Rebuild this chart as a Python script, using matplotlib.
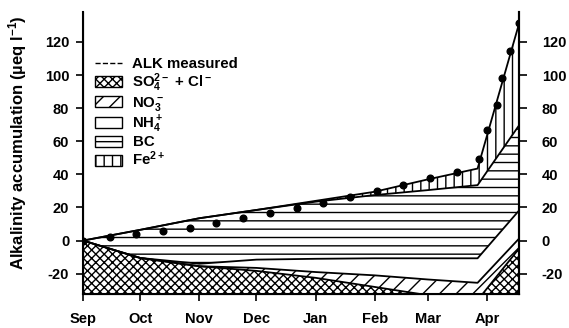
import matplotlib
matplotlib.use("Agg")
import matplotlib.pyplot as plt
import numpy as np
from matplotlib.lines import Line2D
from matplotlib.patches import Patch

# days since 1 Sep
days = [0, 30, 61, 91, 122, 153, 181, 207, 229]

# contributions to alkalinity (ueq/l), stacked in this order
so4_cl = [0, -10.5, -15.5, -18.3, -22.5, -28, -33, -36, -4.5]
no3 = [0, 0, 0, 1.8, 3.5, 7, 9.5, 10.5, 6]
nh4 = [0, 0, 1.5, 5, 8, 10.3, 12.8, 14.8, 17]
bc = [0, 17, 27.5, 30, 34.5, 38.2, 41.2, 44.2, 51.5]
fe = [0, 0, 0, 0, 0.5, 2, 6.5, 10, 62]

alk_days = [0, 14, 28, 42, 56, 70, 84, 98, 112, 126, 140, 154, 168, 182, 196,
            208, 212, 217, 220, 224, 229]
alk_measured = [0, 2, 4, 5.9, 7.5, 10.5, 13.6, 16.6, 19.6, 23, 26.3, 30.1, 33.8,
                37.8, 41.4, 49, 67, 82.2, 98.4, 114.5, 131.3]

month_days = [0, 30, 61, 91, 122, 153, 181, 212]
month_labels = ["Sep", "Oct", "Nov", "Dec", "Jan", "Feb", "Mar", "Apr"]

plt.rcParams["font.family"] = ["Liberation Sans", "DejaVu Sans"]
plt.rcParams["font.weight"] = "bold"
plt.rcParams["mathtext.default"] = "regular"
plt.rcParams["axes.unicode_minus"] = False
plt.rcParams["hatch.linewidth"] = 1.0

YMIN, YMAX = -32, 138

x = np.array(days, dtype=float)
c1 = np.array(so4_cl)
c2 = c1 + np.array(no3)
c3 = c2 + np.array(nh4)
c4 = c3 + np.array(bc)
c5 = c4 + np.array(fe)

fig = plt.figure(figsize=(5.69, 3.28), dpi=100)
ax = fig.add_axes([0.146, 0.105, 0.767, 0.858])

ax.fill_between(x, YMIN - 20, c1, facecolor="white", edgecolor="black", hatch="xxxx", lw=0)
ax.fill_between(x, c1, c2, facecolor="white", edgecolor="black", hatch="//", lw=0)
ax.fill_between(x, c2, c3, facecolor="white", edgecolor="black", lw=0)
ax.fill_between(x, c3, c4, facecolor="white", edgecolor="black", hatch="--", lw=0)
ax.fill_between(x, c4, c5, facecolor="white", edgecolor="black", hatch="||", lw=0)
for c in (c1, c2, c3, c4, c5):
    ax.plot(x, c, color="black", lw=1.3)

ax.plot(alk_days, alk_measured, ls="none", marker="o", ms=4.8, color="black")

ax.set_xlim(0, days[-1])
ax.set_ylim(YMIN, YMAX)
ax.set_xticks(month_days)
ax.set_xticklabels(month_labels)
ax.set_yticks(range(-20, 121, 20))
ax.tick_params(axis="both", direction="out", length=5, width=1.2, labelsize=10.5, pad=5)
ax.tick_params(axis="x", pad=8)
ax.spines["top"].set_visible(False)
for s in ("left", "right", "bottom"):
    ax.spines[s].set_linewidth(1.5)

ax2 = ax.twinx()
ax2.set_ylim(YMIN, YMAX)
ax2.set_yticks(range(-20, 121, 20))
ax2.tick_params(axis="y", direction="out", length=6, width=1.2, labelsize=10.5, pad=10)
ax2.spines["top"].set_visible(False)
ax2.spines["right"].set_linewidth(1.5)

ax.set_ylabel("Alkalinity accumulation (µeq l$^{-1}$)", fontsize=12, fontweight="bold")
ax.yaxis.set_label_coords(-0.125, 0.535)

handles = [
    Line2D([], [], color="black", ls="--", lw=1.0),
    Patch(facecolor="white", edgecolor="black", hatch="xxxx"),
    Patch(facecolor="white", edgecolor="black", hatch="//"),
    Patch(facecolor="white", edgecolor="black"),
    Patch(facecolor="white", edgecolor="black", hatch="-"),
    Patch(facecolor="white", edgecolor="black", hatch="||"),
]
labels = ["ALK measured", "SO$_4^{2-}$ + Cl$^-$", "NO$_3^-$", "NH$_4^+$", "BC", "Fe$^{2+}$"]
fig.legend(handles, labels, loc="upper left", bbox_to_anchor=(95 / 569, 1 - 57 / 328),
           frameon=False, fontsize=10.8, handlelength=1.8, handleheight=0.75,
           handletextpad=0.7, labelspacing=0.04, borderpad=0, borderaxespad=0)

fig.savefig("out.png", dpi=100)
